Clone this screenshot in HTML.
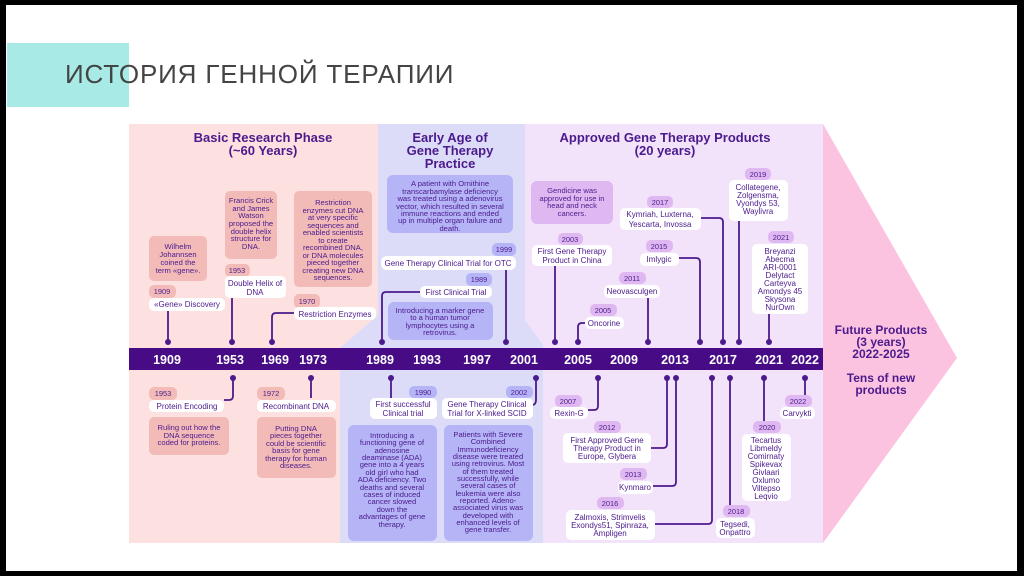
<!DOCTYPE html>
<html><head><meta charset="utf-8"><style>
html,body{margin:0;padding:0;background:#000;}
text{font-family:"Liberation Sans",sans-serif;fill:#4b1a8c;text-anchor:middle}
.t{font-weight:bold;font-size:13px}
.b{font-size:7.6px}
.l{font-size:8px}
.y{font-size:7.4px}
.ax{font-size:12.5px;font-weight:bold;fill:#fff}
svg{position:absolute;left:0;top:0}
</style></head><body>
<svg width="1024" height="576" viewBox="0 0 1024 576">
<rect x="0" y="0" width="1024" height="576" fill="#000"/>
<rect x="6" y="5" width="1011" height="566" fill="#fff"/>
<rect x="7" y="43" width="122" height="64" fill="#a8ebe6"/>
<text x="65" y="83" style="text-anchor:start;font-size:26px;fill:#444;letter-spacing:0.85px">ИСТОРИЯ ГЕННОЙ ТЕРАПИИ</text>

<polygon points="823,124 957,358 823,543" fill="#fcc3e0"/>
<rect x="129" y="124" width="694" height="419" fill="#f2e3fb"/>
<polygon points="129,124 378,124 378,315 340,348 340,543 129,543" fill="#fde0e0"/>
<polygon points="378,124 525,124 525,320 543,345 543,543 340,543 340,348 378,315" fill="#dcdcf8"/>
<rect x="129" y="348" width="694" height="22" fill="#470b86"/>

<g class="ax">
<text x="167" y="364" class="ax">1909</text><text x="230" y="364" class="ax">1953</text><text x="275" y="364" class="ax">1969</text><text x="313" y="364" class="ax">1973</text>
<text x="380" y="364" class="ax">1989</text><text x="427" y="364" class="ax">1993</text><text x="477" y="364" class="ax">1997</text><text x="524" y="364" class="ax">2001</text>
<text x="578" y="364" class="ax">2005</text><text x="624" y="364" class="ax">2009</text><text x="675" y="364" class="ax">2013</text><text x="723" y="364" class="ax">2017</text>
<text x="769" y="364" class="ax">2021</text><text x="805" y="364" class="ax">2022</text>
</g>

<text x="263" y="142" class="t">Basic Research Phase</text><text x="263" y="155" class="t">(~60 Years)</text>
<text x="450" y="142" class="t">Early Age of</text><text x="450" y="155" class="t">Gene Therapy</text><text x="450" y="168" class="t">Practice</text>
<text x="665" y="142" class="t">Approved Gene Therapy Products</text><text x="665" y="155" class="t">(20 years)</text>
<text x="881" y="334" class="t" style="font-size:12px">Future Products</text><text x="881" y="346" class="t" style="font-size:12px">(3 years)</text><text x="881" y="358" class="t" style="font-size:12px">2022-2025</text>
<text x="881" y="382" class="t" style="font-size:12px">Tens of new</text><text x="881" y="394" class="t" style="font-size:12px">products</text>

<g fill="none" stroke="#4b1a8c" stroke-width="1.8">
<path d="M168 311V342"/><path d="M232 298V342"/><path d="M294 313H276q-4 0-4 4V342"/>
<path d="M420 292H386q-4 0-4 4V342"/><path d="M506 270V342"/>
<path d="M555 266V342"/><path d="M585 323h-3q-4 0-4 4V342"/><path d="M648 298V342"/>
<path d="M679 258h17q4 0 4 4V342"/><path d="M701 218h18q4 0 4 4V342"/><path d="M739 221V342"/><path d="M769 314V342"/>
<path d="M233 378V396q0 4-4 4h-5"/><path d="M311 378V398"/><path d="M391 378V398"/><path d="M536 378V400q0 4-3 5"/>
<path d="M598 378V406q0 4-4 4h-6"/><path d="M667 378V444q0 4-4 4h-12"/><path d="M676 378V482q0 4-4 4h-19"/>
<path d="M712 378V520q0 4-4 4h-53"/><path d="M730 378V506"/><path d="M764 378V421"/><path d="M805 378V395"/>
</g>
<g fill="#4b1a8c">
<circle cx="168" cy="342" r="3"/><circle cx="232" cy="342" r="3"/><circle cx="272" cy="342" r="3"/><circle cx="382" cy="342" r="3"/><circle cx="506" cy="342" r="3"/>
<circle cx="555" cy="342" r="3"/><circle cx="578" cy="342" r="3"/><circle cx="648" cy="342" r="3"/><circle cx="700" cy="342" r="3"/><circle cx="723" cy="342" r="3"/><circle cx="739" cy="342" r="3"/><circle cx="769" cy="342" r="3"/>
<circle cx="233" cy="378" r="3"/><circle cx="311" cy="378" r="3"/><circle cx="391" cy="378" r="3"/><circle cx="536" cy="378" r="3"/>
<circle cx="598" cy="378" r="3"/><circle cx="667" cy="378" r="3"/><circle cx="676" cy="378" r="3"/><circle cx="712" cy="378" r="3"/><circle cx="730" cy="378" r="3"/><circle cx="764" cy="378" r="3"/><circle cx="805" cy="378" r="3"/>
</g>

<g fill="#f2bbb8">
<rect x="149" y="236" width="58" height="45" rx="5"/><rect x="225" y="191" width="52" height="68" rx="5"/><rect x="294" y="191" width="78" height="96" rx="5"/>
<rect x="149" y="285" width="27" height="13" rx="5"/><rect x="225" y="264" width="25" height="13" rx="5"/><rect x="294" y="294" width="26" height="14" rx="5"/>
<rect x="149" y="387" width="28" height="13" rx="5"/><rect x="257" y="387" width="28" height="13" rx="5"/>
<rect x="149" y="417" width="80" height="38" rx="5"/><rect x="257" y="417" width="79" height="61" rx="5"/>
</g>
<g fill="#fff">
<rect x="149" y="298" width="76" height="13" rx="5"/><rect x="225" y="276" width="61" height="22" rx="5"/><rect x="294" y="307" width="82" height="13" rx="5"/>
<rect x="149" y="400" width="75" height="12" rx="5"/><rect x="257" y="400" width="79" height="12" rx="5"/>
</g>
<g fill="#b4b4f6">
<rect x="387" y="175" width="126" height="58" rx="6"/><rect x="388" y="302" width="105" height="38" rx="6"/>
<rect x="492" y="243" width="24" height="13" rx="5"/><rect x="466" y="273" width="26" height="13" rx="5"/>
<rect x="409" y="386" width="28" height="12" rx="5"/><rect x="506" y="386" width="27" height="12" rx="5"/>
<rect x="348" y="425" width="89" height="116" rx="6"/><rect x="444" y="425" width="89" height="116" rx="6"/>
</g>
<g fill="#fff">
<rect x="381" y="256" width="135" height="14" rx="6"/><rect x="420" y="286" width="72" height="12" rx="5"/>
<rect x="370" y="398" width="67" height="21" rx="5"/><rect x="442" y="398" width="91" height="21" rx="5"/>
</g>
<g fill="#dfb8f1">
<rect x="531" y="181" width="82" height="43" rx="6"/>
<rect x="558" y="233" width="25" height="12" rx="5"/><rect x="590" y="304" width="27" height="12" rx="5"/><rect x="619" y="272" width="27" height="12" rx="5"/>
<rect x="646" y="240" width="27" height="12" rx="5"/><rect x="647" y="196" width="26" height="12" rx="5"/><rect x="745" y="168" width="26" height="12" rx="5"/><rect x="768" y="231" width="26" height="12" rx="5"/>
<rect x="555" y="395" width="27" height="12" rx="5"/><rect x="594" y="421" width="27" height="12" rx="5"/><rect x="620" y="468" width="27" height="12" rx="5"/><rect x="597" y="497" width="27" height="12" rx="5"/>
<rect x="723" y="505" width="27" height="12" rx="5"/><rect x="753" y="421" width="28" height="12" rx="5"/><rect x="785" y="395" width="27" height="12" rx="5"/>
</g>
<g fill="#fff">
<rect x="532" y="245" width="80" height="21" rx="5"/><rect x="585" y="317" width="39" height="12" rx="5"/><rect x="604" y="285" width="56" height="13" rx="5"/>
<rect x="640" y="253" width="39" height="13" rx="5"/><rect x="620" y="208" width="81" height="22" rx="5"/><rect x="729" y="180" width="59" height="41" rx="5"/><rect x="752" y="244" width="56" height="70" rx="5"/>
<rect x="550" y="407" width="38" height="12" rx="5"/><rect x="563" y="433" width="88" height="30" rx="5"/><rect x="618" y="481" width="35" height="13" rx="5"/>
<rect x="566" y="510" width="89" height="30" rx="5"/><rect x="716" y="518" width="39" height="20" rx="5"/><rect x="742" y="434" width="49" height="67" rx="5"/><rect x="780" y="407" width="35" height="12" rx="5"/>
</g>

<g class="y">
<text x="162" y="294" class="y">1909</text><text x="237" y="273" class="y">1953</text><text x="307" y="304" class="y">1970</text>
<text x="163" y="396" class="y">1953</text><text x="271" y="396" class="y">1972</text>
<text x="504" y="252" class="y">1999</text><text x="479" y="282" class="y">1989</text><text x="423" y="395" class="y">1990</text><text x="519" y="395" class="y">2002</text>
<text x="570" y="242" class="y">2003</text><text x="603" y="313" class="y">2005</text><text x="632" y="281" class="y">2011</text><text x="659" y="249" class="y">2015</text><text x="660" y="205" class="y">2017</text><text x="758" y="177" class="y">2019</text><text x="781" y="240" class="y">2021</text>
<text x="568" y="404" class="y">2007</text><text x="607" y="430" class="y">2012</text><text x="633" y="477" class="y">2013</text><text x="610" y="506" class="y">2016</text><text x="736" y="514" class="y">2018</text><text x="767" y="430" class="y">2020</text><text x="798" y="404" class="y">2022</text>
</g>

<text x="187" y="307" class="l">«Gene» Discovery</text>
<text x="255" y="286" class="l">Double Helix of</text><text x="255" y="295" class="l">DNA</text>
<text x="335" y="317" class="l">Restriction Enzymes</text>
<text x="187" y="409" class="l">Protein Encoding</text>
<text x="296" y="409" class="l">Recombinant DNA</text>
<text x="448" y="266" class="l">Gene Therapy Clinical Trial for OTC</text>
<text x="456" y="295" class="l">First Clinical Trial</text>
<text x="403" y="407" class="l">First successful</text><text x="403" y="416" class="l">Clinical trial</text>
<text x="487" y="407" class="l">Gene Therapy Clinical</text><text x="487" y="416" class="l">Trial for X-linked SCID</text>
<text x="572" y="254" class="l">First Gene Therapy</text><text x="572" y="263" class="l">Product in China</text>
<text x="604" y="326" class="l">Oncorine</text><text x="632" y="294" class="l">Neovasculgen</text><text x="659" y="262" class="l">Imlygic</text>
<text x="660" y="217" class="l">Kymriah, Luxterna,</text><text x="660" y="227" class="l">Yescarta, Invossa</text>
<g class="l"><text x="758" y="190">Collategene,</text><text x="758" y="198">Zolgensma,</text><text x="758" y="206">Vyondys 53,</text><text x="758" y="214">Waylivra</text></g>
<g class="l"><text x="780" y="254">Breyanzi</text><text x="780" y="262">Abecma</text><text x="780" y="270">ARI-0001</text><text x="780" y="278">Delytact</text><text x="780" y="286">Carteyva</text><text x="780" y="294">Amondys 45</text><text x="780" y="302">Skysona</text><text x="780" y="310">NurOwn</text></g>
<text x="569" y="416" class="l">Rexin-G</text>
<text x="607" y="443" class="l">First Approved Gene</text><text x="607" y="451" class="l">Therapy Product in</text><text x="607" y="459" class="l">Europe, Glybera</text>
<text x="635" y="490" class="l">Kynmaro</text>
<text x="610" y="520" class="l">Zalmoxis, Strimvelis</text><text x="610" y="528" class="l">Exondys51, Spinraza,</text><text x="610" y="536" class="l">Ampligen</text>
<text x="735" y="527" class="l">Tegsedi,</text><text x="735" y="535" class="l">Onpattro</text>
<g class="l"><text x="766" y="443">Tecartus</text><text x="766" y="451">Libmeldy</text><text x="766" y="459">Comirnaty</text><text x="766" y="467">Spikevax</text><text x="766" y="475">Givlaari</text><text x="766" y="483">Oxlumo</text><text x="766" y="491">Viltepso</text><text x="766" y="499">Leqvio</text></g>
<text x="797" y="416" class="l">Carvykti</text>

<g class="b">
<text x="178" y="249">Wilhelm</text><text x="178" y="257">Johannsen</text><text x="178" y="265">coined the</text><text x="178" y="273">term «gene».</text>
<text x="251" y="203">Francis Crick</text><text x="251" y="211">and James</text><text x="251" y="218">Watson</text><text x="251" y="226">proposed the</text><text x="251" y="234">double helix</text><text x="251" y="241">structure for</text><text x="251" y="249">DNA.</text>
<text x="333" y="205">Restriction</text><text x="333" y="213">enzymes cut DNA</text><text x="333" y="220">at very specific</text><text x="333" y="228">sequences and</text><text x="333" y="235">enabled scientists</text><text x="333" y="243">to create</text><text x="333" y="250">recombined DNA,</text><text x="333" y="258">or DNA molecules</text><text x="333" y="265">pieced together</text><text x="333" y="273">creating new DNA</text><text x="333" y="280">sequences.</text>
<text x="189" y="430">Ruling out how the</text><text x="189" y="438">DNA sequence</text><text x="189" y="445">coded for proteins.</text>
<text x="296" y="431">Putting DNA</text><text x="296" y="438">pieces together</text><text x="296" y="446">could be scientific</text><text x="296" y="453">basis for gene</text><text x="296" y="461">therapy for human</text><text x="296" y="468">diseases.</text>
<text x="450" y="186">A patient with Ornithine</text><text x="450" y="194">transcarbamylase deficiency</text><text x="450" y="201">was treated using a adenovirus</text><text x="450" y="209">vector, which resulted in several</text><text x="450" y="216">immune reactions and ended</text><text x="450" y="223">up in multiple organ failure and</text><text x="450" y="231">death.</text>
<text x="440" y="313">Introducing a marker gene</text><text x="440" y="320">to a human tumor</text><text x="440" y="328">lymphocytes using a</text><text x="440" y="335">retrovirus.</text>
<g><text x="392" y="438">Introducing a</text><text x="392" y="445">functioning gene of</text><text x="392" y="453">adenosine</text><text x="392" y="460">deaminase (ADA)</text><text x="392" y="467">gene into a 4 years</text><text x="392" y="475">old girl who had</text><text x="392" y="482">ADA deficiency. Two</text><text x="392" y="490">deaths and several</text><text x="392" y="497">cases of induced</text><text x="392" y="504">cancer slowed</text><text x="392" y="512">down the</text><text x="392" y="519">advantages of gene</text><text x="392" y="527">therapy.</text></g>
<g><text x="488" y="437">Patients with Severe</text><text x="488" y="444">Combined</text><text x="488" y="452">Immunodeficiency</text><text x="488" y="459">disease were treated</text><text x="488" y="466">using retrovirus. Most</text><text x="488" y="474">of them treated</text><text x="488" y="481">successfully, while</text><text x="488" y="488">several cases of</text><text x="488" y="496">leukemia were also</text><text x="488" y="503">reported. Adeno-</text><text x="488" y="510">associated virus was</text><text x="488" y="518">developed with</text><text x="488" y="525">enhanced levels of</text><text x="488" y="532">gene transfer.</text></g>
<text x="572" y="193">Gendicine was</text><text x="572" y="201">approved for use in</text><text x="572" y="208">head and neck</text><text x="572" y="216">cancers.</text>
</g>
</svg>
</body></html>
